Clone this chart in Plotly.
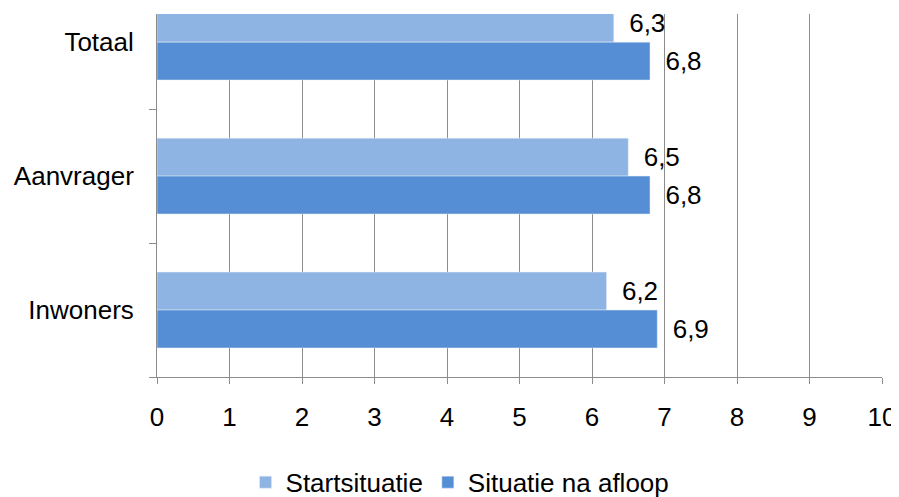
import plotly.graph_objects as go

# data
groepen = ["Inwoners", "Aanvrager", "Totaal"]
start = [6.2, 6.5, 6.3]
na_afloop = [6.9, 6.8, 6.8]
x_ticks = list(range(0, 11))

kleur_start = "#8EB4E3"
kleur_na = "#558ED5"
grijs = "#8C8C8C"
font = "Liberation Sans, Arial, sans-serif"
fs = 26

pos = list(range(len(groepen)))
bar_w = 0.283

# the page body adds an 8px margin, so the figure is drawn 8px smaller
fig = go.Figure()
fig.add_trace(go.Bar(
    y=pos, x=start, orientation="h", name="Startsituatie",
    marker_color=kleur_start, width=bar_w, offset=0,
    texttemplate="\u00a0\u2009%{x:.1f}", textposition="outside",
    constraintext="none", cliponaxis=False,
    textfont=dict(size=fs, color="black", family=font),
))
fig.add_trace(go.Bar(
    y=pos, x=na_afloop, orientation="h", name="Situatie na afloop",
    marker_color=kleur_na, width=bar_w, offset=-bar_w,
    texttemplate="\u00a0\u2009%{x:.1f}", textposition="outside",
    constraintext="none", cliponaxis=False,
    textfont=dict(size=fs, color="black", family=font),
))

fig.update_layout(
    width=891, height=489,
    margin=dict(l=149, r=17, t=6, b=120, autoexpand=False),
    paper_bgcolor="white", plot_bgcolor="white",
    barmode="overlay", separators=",.",
    font=dict(family=font, size=fs, color="black"),
    showlegend=True,
    legend=dict(orientation="h", x=0.418, xanchor="center",
                y=-0.29, yanchor="middle",
                font=dict(size=fs), itemwidth=30, traceorder="normal"),
    xaxis=dict(range=[0, 10], tickvals=x_ticks, showgrid=True,
               gridcolor=grijs, gridwidth=1, zeroline=False,
               showline=True, linecolor=grijs, linewidth=1,
               ticks="outside", ticklen=6, tickcolor=grijs,
               ticklabelstandoff=11, automargin=False),
    yaxis=dict(range=[-0.5, 2.21], tickvals=pos, ticktext=groepen,
               ticks="", showgrid=False, zeroline=False,
               showline=True, linecolor=grijs, linewidth=1,
               ticklabelstandoff=17, automargin=False,
               minor=dict(tickvals=[-0.5, 0.5, 1.5], ticks="outside",
                          ticklen=7, tickcolor=grijs, showgrid=False)),
)

fig.write_html("out.html")
